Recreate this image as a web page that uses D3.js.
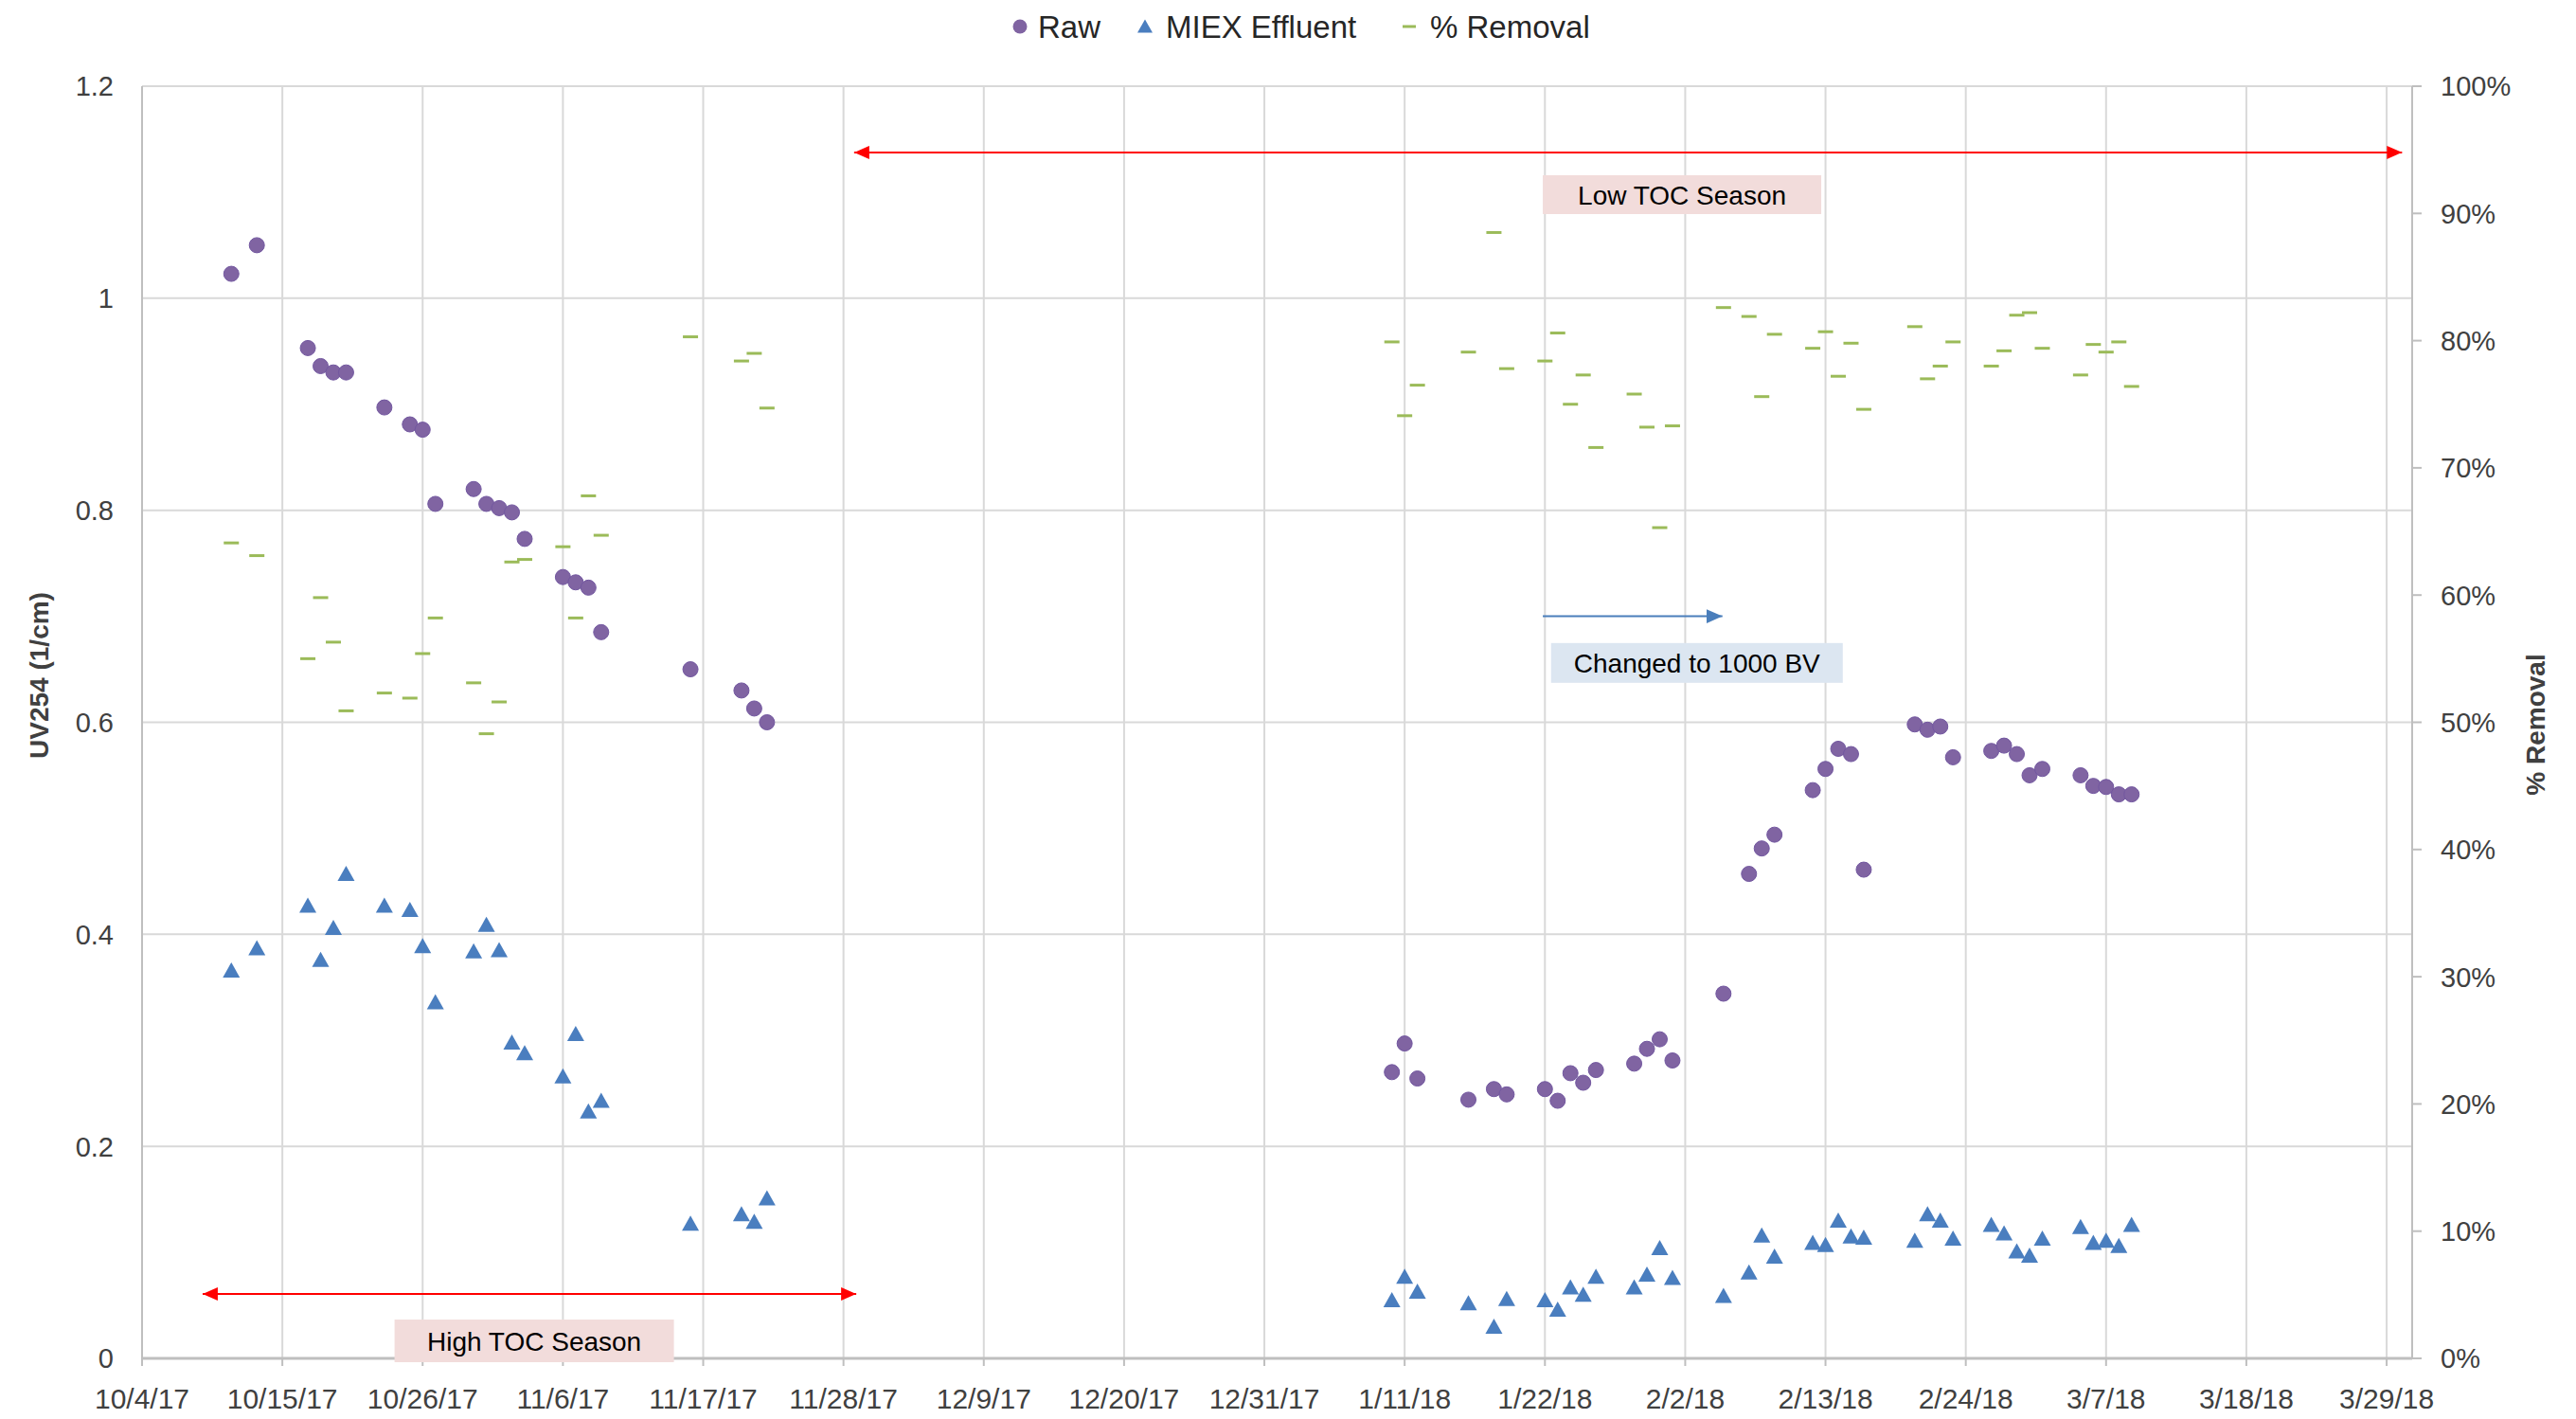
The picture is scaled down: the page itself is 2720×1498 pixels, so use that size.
<!DOCTYPE html>
<html><head><meta charset="utf-8">
<script src="https://cdn.jsdelivr.net/npm/d3@7"></script>
<style>
body{margin:0;background:#fff}
svg{display:block}
text{font-family:"Liberation Sans",Arial,sans-serif}
</style>
</head><body>
<svg id="chart" width="2720" height="1498"></svg>
<script>
// ---------------- DATA ----------------
const dates = ["2017-10-11","2017-10-13","2017-10-17","2017-10-18","2017-10-19","2017-10-20","2017-10-23","2017-10-25","2017-10-26","2017-10-27","2017-10-30","2017-10-31","2017-11-01","2017-11-02","2017-11-03","2017-11-06","2017-11-07","2017-11-08","2017-11-09","2017-11-16","2017-11-20","2017-11-21","2017-11-22",
"2018-01-10","2018-01-11","2018-01-12","2018-01-16","2018-01-18","2018-01-19","2018-01-22","2018-01-23","2018-01-24","2018-01-25","2018-01-26","2018-01-29","2018-01-30","2018-01-31","2018-02-01",
"2018-02-05","2018-02-07","2018-02-08","2018-02-09","2018-02-12","2018-02-13","2018-02-14","2018-02-15","2018-02-16",
"2018-02-20","2018-02-21","2018-02-22","2018-02-23","2018-02-26","2018-02-27","2018-02-28","2018-03-01","2018-03-02",
"2018-03-05","2018-03-06","2018-03-07","2018-03-08","2018-03-09"];

const rawUV = [1.023,1.050,0.953,0.936,0.930,0.930,0.897,0.881,0.876,0.806,0.820,0.806,0.802,0.798,0.773,0.737,0.732,0.727,0.685,0.650,0.630,0.613,0.600,
0.270,0.297,0.264,0.244,0.254,0.249,0.254,0.243,0.269,0.260,0.272,0.278,0.292,0.301,0.281,
0.344,0.457,0.481,0.494,0.536,0.556,0.575,0.570,0.461,
0.598,0.593,0.596,0.567,0.573,0.578,0.570,0.550,0.556,
0.550,0.540,0.539,0.532,0.532];

const miexUV = [0.366,0.387,0.427,0.376,0.406,0.457,0.427,0.423,0.389,0.336,0.384,0.409,0.385,0.298,0.288,0.266,0.306,0.233,0.243,0.127,0.136,0.129,0.151,
0.055,0.077,0.063,0.052,0.030,0.056,0.055,0.046,0.067,0.060,0.077,0.067,0.079,0.104,0.076,
0.059,0.081,0.116,0.096,0.109,0.107,0.130,0.115,0.114,
0.111,0.136,0.130,0.113,0.126,0.118,0.101,0.097,0.113,
0.124,0.109,0.111,0.106,0.126];

const removalPct = [64.1,63.1,55.0,59.8,56.3,50.9,52.3,51.9,55.4,58.2,53.1,49.1,51.6,62.6,62.8,63.8,58.2,67.8,64.7,80.3,78.4,79.0,74.7,
79.9,74.1,76.5,79.1,88.5,77.8,78.4,80.6,75.0,77.3,71.6,75.8,73.2,65.3,73.3,
82.6,81.9,75.6,80.5,79.4,80.7,77.2,79.8,74.6,
81.1,77.0,78.0,79.9,78.0,79.2,82.0,82.2,79.4,
77.3,79.7,79.1,79.9,76.4];

const xTickDates = ["2017-10-04","2017-10-15","2017-10-26","2017-11-06","2017-11-17","2017-11-28","2017-12-09","2017-12-20","2017-12-31","2018-01-11","2018-01-22","2018-02-02","2018-02-13","2018-02-24","2018-03-07","2018-03-18","2018-03-29"];
const xTickLabels = ["10/4/17","10/15/17","10/26/17","11/6/17","11/17/17","11/28/17","12/9/17","12/20/17","12/31/17","1/11/18","1/22/18","2/2/18","2/13/18","2/24/18","3/7/18","3/18/18","3/29/18"];
const yLeftTicks = [0,0.2,0.4,0.6,0.8,1.0,1.2];
const yLeftLabels = ["0","0.2","0.4","0.6","0.8","1","1.2"];
const yRightTicks = [0,10,20,30,40,50,60,70,80,90,100];
const yRightLabels = ["0%","10%","20%","30%","40%","50%","60%","70%","80%","90%","100%"];
const seriesNames = ["Raw","MIEX Effluent","% Removal"];

// annotations in data units
const arrowsRed = [
  {x1:"2017-11-28T20:00", x2:"2018-03-30T05:00", y:1.1375},
  {x1:"2017-10-08T18:00", x2:"2017-11-29T00:00", y:0.0608}
];
const arrowBlue = {x1:"2018-01-21T20:00", x2:"2018-02-04T22:00", y:0.70};
const labelBoxes = [
  {text:"Low TOC Season", x:"2018-02-01T18:00", y:1.0977, w:294, h:41, fill:"#f2dcdb"},
  {text:"High TOC Season", x:"2017-11-03T18:00", y:0.0165, w:295, h:45, fill:"#f2dcdb"},
  {text:"Changed to 1000 BV", x:"2018-02-02T22:00", y:0.656, w:308, h:42, fill:"#dce6f1"}
];

// ---------------- CHART ----------------
const W = 2720, H = 1498;
const m = {left:150, right:W-2547, top:91, bottom:H-1434};
const parse = s => s.length > 10 ? d3.utcParse("%Y-%m-%dT%H:%M")(s) : d3.utcParse("%Y-%m-%d")(s);

const x = d3.scaleUtc().domain([parse("2017-10-04"), parse("2018-03-31")]).range([m.left, W - m.right]);
const yL = d3.scaleLinear().domain([0,1.2]).range([H - m.bottom, m.top]);
const yR = d3.scaleLinear().domain([0,100]).range([H - m.bottom, m.top]);

const svg = d3.select("#chart");
const C = {grid:"#d9d9d9", axis:"#bfbfbf", text:"#404040",
  raw:"#8064a2", rawStroke:"#7257a0", miex:"#4a7ebf", rem:"#9bbb59"};

// gridlines
svg.append("g").selectAll("line").data(yLeftTicks).join("line")
  .attr("x1", m.left).attr("x2", W - m.right)
  .attr("y1", d => yL(d)).attr("y2", d => yL(d))
  .attr("stroke", C.grid).attr("stroke-width", 2);
svg.append("g").selectAll("line").data(xTickDates.slice(1)).join("line")
  .attr("x1", d => x(parse(d))).attr("x2", d => x(parse(d)))
  .attr("y1", m.top).attr("y2", H - m.bottom)
  .attr("stroke", C.grid).attr("stroke-width", 2);

// left axis line
svg.append("line").attr("x1", m.left).attr("x2", m.left).attr("y1", m.top).attr("y2", H - m.bottom)
  .attr("stroke", C.axis).attr("stroke-width", 2);
// right axis line + ticks
svg.append("line").attr("x1", W - m.right).attr("x2", W - m.right).attr("y1", m.top).attr("y2", H - m.bottom)
  .attr("stroke", C.axis).attr("stroke-width", 2);
svg.append("g").selectAll("line").data(yRightTicks).join("line")
  .attr("x1", W - m.right).attr("x2", W - m.right + 10)
  .attr("y1", d => yR(d)).attr("y2", d => yR(d))
  .attr("stroke", C.axis).attr("stroke-width", 2);
// bottom axis + ticks
svg.append("g").selectAll("line").data(xTickDates).join("line")
  .attr("x1", d => x(parse(d))).attr("x2", d => x(parse(d)))
  .attr("y1", H - m.bottom).attr("y2", H - m.bottom + 8)
  .attr("stroke", C.axis).attr("stroke-width", 2);
svg.append("line").attr("x1", m.left).attr("x2", W - m.right).attr("y1", H - m.bottom).attr("y2", H - m.bottom)
  .attr("stroke", C.axis).attr("stroke-width", 3);

// tick labels
svg.append("g").selectAll("text").data(yLeftTicks).join("text")
  .attr("x", m.left - 30).attr("y", d => yL(d)).attr("dy", "0.36em")
  .attr("text-anchor", "end").attr("font-size", 29).attr("fill", C.text)
  .text((d, i) => yLeftLabels[i]);
svg.append("g").selectAll("text").data(yRightTicks).join("text")
  .attr("x", W - m.right + 30).attr("y", d => yR(d)).attr("dy", "0.36em")
  .attr("text-anchor", "start").attr("font-size", 29).attr("fill", C.text)
  .text((d, i) => yRightLabels[i]);
svg.append("g").selectAll("text").data(xTickDates).join("text")
  .attr("x", d => x(parse(d))).attr("y", 1476).attr("dy", "0.36em")
  .attr("text-anchor", "middle").attr("font-size", 30).attr("fill", C.text)
  .text((d, i) => xTickLabels[i]);

// axis titles
svg.append("text").attr("transform", "translate(41,713) rotate(-90)")
  .attr("text-anchor", "middle").attr("dy", "0.36em").attr("font-size", 28).attr("font-weight", "bold")
  .attr("fill", C.text).text("UV254 (1/cm)");
svg.append("text").attr("transform", "translate(2677,765) rotate(-90)")
  .attr("text-anchor", "middle").attr("dy", "0.36em").attr("font-size", 28).attr("font-weight", "bold")
  .attr("fill", C.text).text("% Removal");

// series
const rows = dates.map((d, i) => ({date: parse(d), raw: rawUV[i], miex: miexUV[i], rem: removalPct[i]}));
const triPath = (cx, cy) => `M${cx},${cy-8.5}L${cx+9},${cy+7.5}L${cx-9},${cy+7.5}Z`;

svg.append("g").selectAll("circle").data(rows).join("circle")
  .attr("cx", d => x(d.date)).attr("cy", d => yL(d.raw)).attr("r", 8)
  .attr("fill", C.raw).attr("stroke", C.rawStroke).attr("stroke-width", 1);
svg.append("g").selectAll("path").data(rows).join("path")
  .attr("d", d => triPath(x(d.date), yL(d.miex)))
  .attr("fill", C.miex);
svg.append("g").selectAll("line").data(rows).join("line")
  .attr("x1", d => x(d.date) - 8).attr("x2", d => x(d.date) + 8)
  .attr("y1", d => yR(d.rem)).attr("y2", d => yR(d.rem))
  .attr("stroke", C.rem).attr("stroke-width", 3);

// annotation arrows
const defs = svg.append("defs");
function marker(id, color, w, h){
  defs.append("marker").attr("id", id).attr("viewBox", `0 0 ${w} ${h}`)
    .attr("refX", w).attr("refY", h/2).attr("markerWidth", w).attr("markerHeight", h)
    .attr("markerUnits", "userSpaceOnUse").attr("orient", "auto-start-reverse")
    .append("path").attr("d", `M0,0L${w},${h/2}L0,${h}Z`).attr("fill", color);
}
marker("arRed", "#ff0000", 16, 14);
marker("arBlue", "#4a7ebb", 17, 15);

svg.append("g").selectAll("line").data(arrowsRed).join("line")
  .attr("x1", d => x(parse(d.x1))).attr("x2", d => x(parse(d.x2)))
  .attr("y1", d => yL(d.y)).attr("y2", d => yL(d.y))
  .attr("stroke", "#ff0000").attr("stroke-width", 2)
  .attr("marker-start", "url(#arRed)").attr("marker-end", "url(#arRed)");
svg.append("line")
  .attr("x1", x(parse(arrowBlue.x1))).attr("x2", x(parse(arrowBlue.x2)))
  .attr("y1", yL(arrowBlue.y)).attr("y2", yL(arrowBlue.y))
  .attr("stroke", "#4a7ebb").attr("stroke-width", 2)
  .attr("marker-end", "url(#arBlue)");

// label boxes
const lb = svg.append("g").selectAll("g").data(labelBoxes).join("g")
  .attr("transform", d => `translate(${x(parse(d.x))},${yL(d.y)})`);
lb.append("rect").attr("x", d => -d.w/2).attr("y", d => -d.h/2).attr("width", d => d.w).attr("height", d => d.h)
  .attr("fill", d => d.fill);
lb.append("text").attr("text-anchor", "middle").attr("dy", "0.36em").attr("font-size", 28).attr("fill", "#000")
  .text(d => d.text);

// legend
const legend = svg.append("g");
const legendMarkerX = [1077, 1209, 1488];
seriesNames.forEach((name, i) => {
  const g = legend.append("g");
  const cx = legendMarkerX[i], cy = 28;
  if (i === 0) g.append("circle").attr("cx", cx).attr("cy", cy).attr("r", 7.5).attr("fill", C.raw);
  if (i === 1) g.append("path").attr("d", `M${cx},${cy-7.5}L${cx+8},${cy+6.5}L${cx-8},${cy+6.5}Z`).attr("fill", C.miex);
  if (i === 2) g.append("line").attr("x1", cx-7).attr("x2", cx+7).attr("y1", cy).attr("y2", cy).attr("stroke", C.rem).attr("stroke-width", 3);
  g.append("text").attr("x", cx + (i === 0 ? 19 : 22)).attr("y", cy).attr("dy", "0.36em")
    .attr("font-size", 33).attr("fill", "#262626").text(name);
});
</script>
</body></html>
